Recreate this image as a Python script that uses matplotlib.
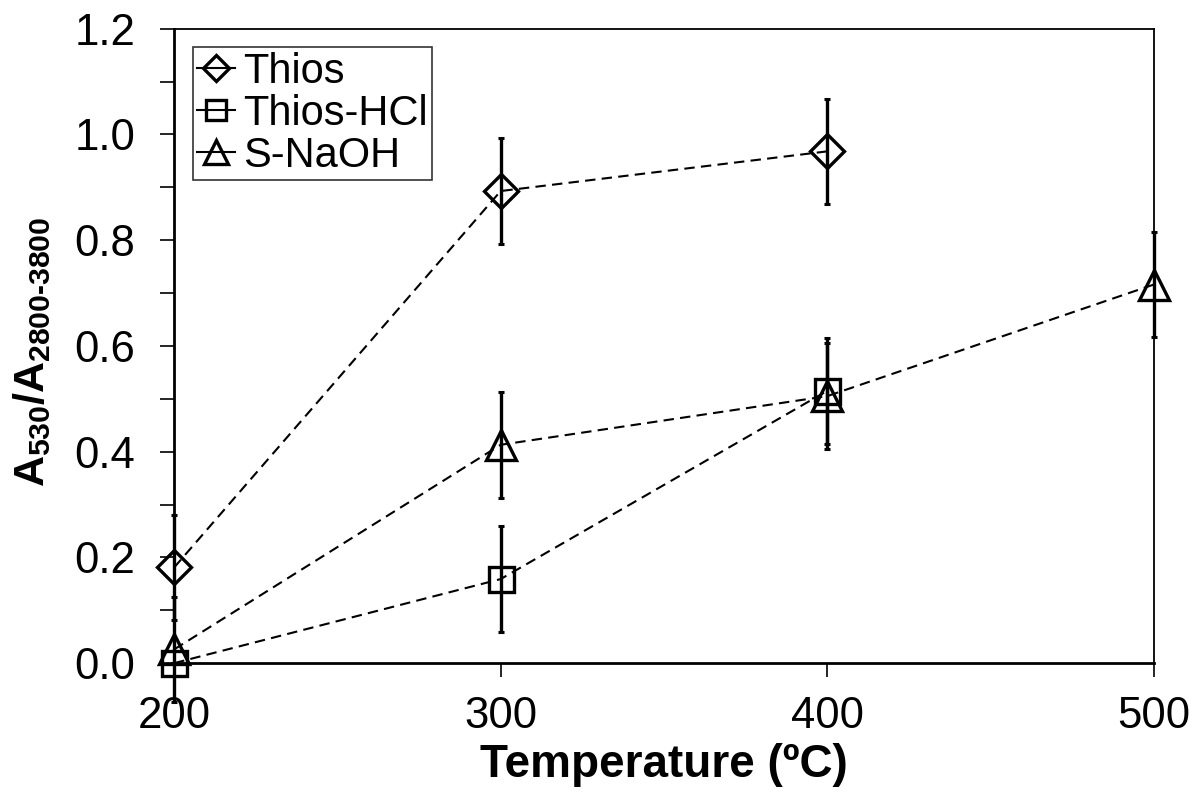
import matplotlib.pyplot as plt
from matplotlib.ticker import MultipleLocator

plt.rcParams['font.family'] = ['Liberation Sans', 'DejaVu Sans']
plt.rcParams['mathtext.fontset'] = 'custom'
plt.rcParams['mathtext.rm'] = 'Liberation Sans:bold'
plt.rcParams['mathtext.it'] = 'Liberation Sans:bold'
plt.rcParams['mathtext.bf'] = 'Liberation Sans:bold'

# data
temp_thios = [200, 300, 400]
thios = [0.181, 0.893, 0.968]
thios_err = [0.1, 0.1, 0.1]

temp_hcl = [200, 300, 400]
thios_hcl = [0.0, 0.159, 0.515]
thios_hcl_err = [0.0, 0.1, 0.1]

temp_naoh = [200, 300, 400, 500]
s_naoh = [0.026, 0.413, 0.505, 0.716]
s_naoh_err = [0.1, 0.1, 0.1, 0.1]

fig = plt.figure(figsize=(11.93, 7.98), dpi=100)
ax = fig.add_axes([0.146, 0.169, 0.821, 0.795])

series = [
    (temp_thios, thios, thios_err, 'D', 17, 'Thios'),
    (temp_hcl, thios_hcl, thios_hcl_err, 's', 18, 'Thios-HCl'),
    (temp_naoh, s_naoh, s_naoh_err, '^', 21, 'S-NaOH'),
]
for x, y, e, m, ms, lab in series:
    ax.errorbar(x, y, yerr=e, fmt='none', ecolor='black', elinewidth=2.4,
                capsize=2, capthick=2.2, clip_on=False, zorder=3)
    ax.plot(x, y, color='black', ls=(0, (5, 3)), lw=1.5, marker=m, ms=ms,
            mfc='none', mec='black', mew=2.4, label=lab, clip_on=False, zorder=4)

ax.set_xlim(200, 500)
ax.set_ylim(0, 1.2)
ax.set_xticks([200, 300, 400, 500])
ax.yaxis.set_major_locator(MultipleLocator(0.2))
ax.yaxis.set_minor_locator(MultipleLocator(0.1))
ax.yaxis.set_major_formatter(lambda v, p: f'{v:.1f}')
ax.tick_params(axis='both', which='both', direction='out', length=10, width=1.2,
               labelsize=31.5)
ax.tick_params(axis='y', pad=18)
ax.tick_params(axis='x', pad=14)

for side in ['left', 'bottom']:
    ax.spines[side].set_linewidth(2)
for side in ['top', 'right']:
    ax.spines[side].set_linewidth(1.3)

ax.set_xlabel('Temperature (ºC)', fontsize=33, fontweight='bold', labelpad=4)
ax.set_ylabel(r'$A_{530}/A_{2800\text{-}3800}$', fontsize=31)
ax.yaxis.set_label_coords(-0.124, 0.49)

leg = ax.legend(loc='upper left', fontsize=30, frameon=True, fancybox=False,
                edgecolor='black', handlelength=0.9, handletextpad=0.2,
                borderpad=0.1, labelspacing=0.05, borderaxespad=0.45,
                markerscale=0.8)
leg.get_frame().set_linewidth(1.2)
for h in leg.legend_handles:
    h.set_linestyle('-')

fig.savefig('out.png', dpi=100)
